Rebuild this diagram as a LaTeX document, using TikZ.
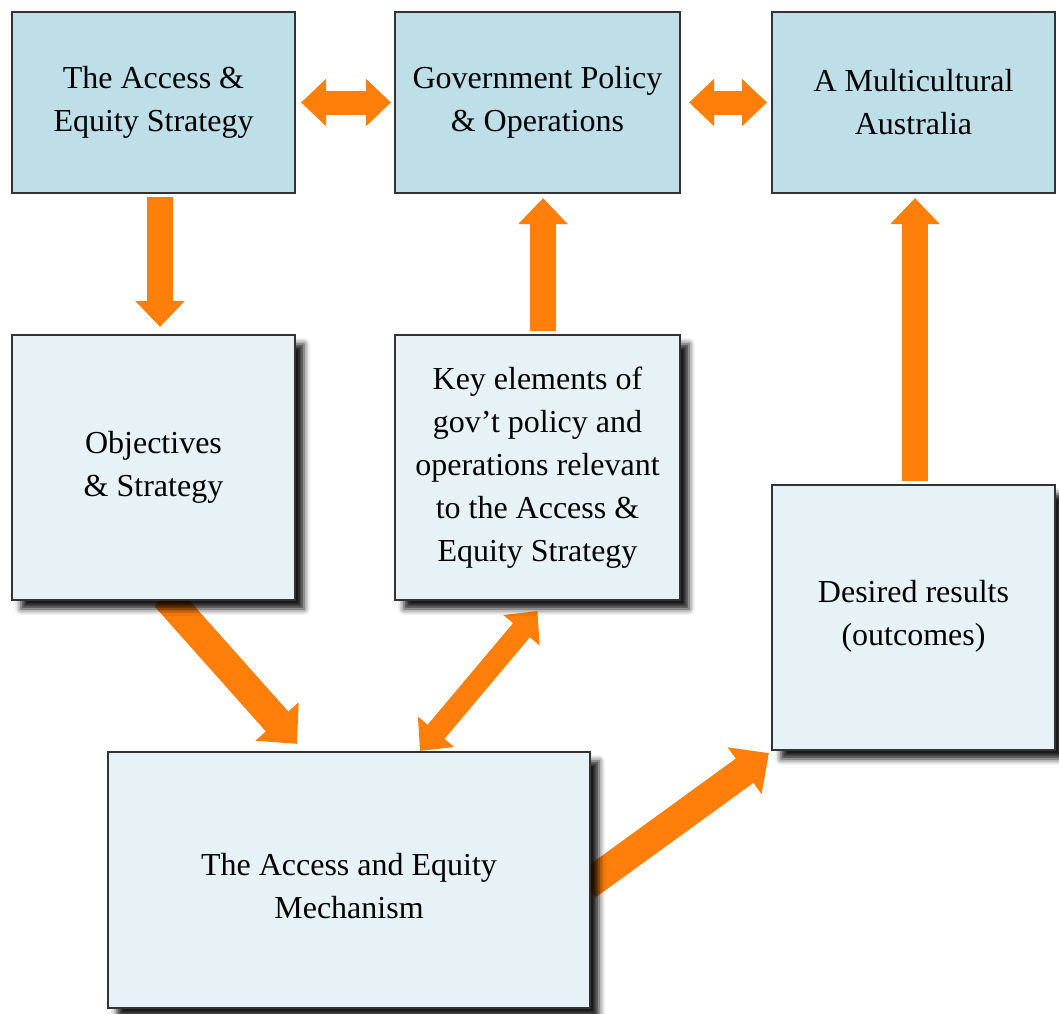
\documentclass[tikz,border=0pt]{standalone}
\usepackage{fontspec}
\setmainfont{Liberation Serif}
\usetikzlibrary{arrows.meta,shadows.blur,calc}
\pgfdeclarelayer{background}
\pgfsetlayers{background,main}
\definecolor{topfill}{HTML}{BEDFE8}
\definecolor{lowfill}{HTML}{E7F2F6}
\definecolor{edge}{HTML}{333333}
\definecolor{arrorange}{HTML}{FF7F0A}
\tikzset{
  boxbase/.style={draw=edge, line width=2.2pt, align=center, inner sep=0pt,
    font=\fontsize{32}{43}\selectfont},
  topbox/.style={boxbase, fill=topfill, minimum width=283pt, minimum height=181pt},
  lowbox/.style={boxbase, fill=lowfill, minimum height=265pt,
    blur shadow={shadow xshift=9pt, shadow yshift=-9pt, shadow blur radius=6pt, shadow opacity=90}},
  fat/.style={draw=arrorange, line width=26pt,
    -{Triangle[length=26pt,width=48pt]}},
  fatboth/.style={draw=arrorange, line width=24pt,
    {Triangle[length=25pt,width=46pt]}-{Triangle[length=25pt,width=46pt]}},
}
\begin{document}
\begin{tikzpicture}[x=1pt,y=-1pt]
\useasboundingbox (0,0) rectangle (1059,1013);
% boxes
\node[topbox] (b1) at (153.5,102.5) {The Access \&\\Equity Strategy};
\node[topbox, minimum width=285pt] (b2) at (537.5,102.5) {Government Policy\\\& Operations};
\node[topbox] (b3) at (913.5,102.5) {A Multicultural\\Australia};
\node[lowbox, minimum width=283pt] (obj) at (153.5,467.5) {Objectives\\\& Strategy};
\node[lowbox, minimum width=285pt] (key) at (537.5,467.5) {Key elements of\\gov’t policy and\\operations relevant\\to the Access \&\\Equity Strategy};
\node[lowbox, minimum width=283pt] (des) at (913.5,617.5) {\mbox{}\\[-23pt]Desired results\\(outcomes)};
\node[lowbox, minimum width=482pt, minimum height=256pt] (mech) at (349,880) {\mbox{}\\[-9pt]The Access and Equity\\Mechanism};
% arrows
\begin{pgfonlayer}{background}
\draw[fatboth] ([xshift=5pt]b1.east) -- ([xshift=-3pt]b2.west);
\draw[fatboth] ([xshift=8pt]b2.east) -- ([xshift=-4pt]b3.west);
\draw[fat] ([xshift=6.5pt,yshift=-3pt]b1.south) -- ([xshift=6.5pt,yshift=7pt]obj.north);
\draw[fat] ([xshift=5.5pt,yshift=3pt]key.north) -- ([xshift=5.5pt,yshift=-4pt]b2.south);
\draw[fat] ([xshift=1.5pt,yshift=3pt]des.north) -- ([xshift=1.5pt,yshift=-4pt]b3.south);
\draw[fat, line width=30pt, -{Triangle[length=30pt,width=56pt]}] ([xshift=12pt,yshift=5pt]obj.south) -- ([xshift=-52pt,yshift=7pt]mech.north);
\draw[fatboth, line width=22pt] ([yshift=-10pt]key.south) -- ([xshift=71pt,yshift=0pt]mech.north);
\draw[fat, line width=30pt, -{Triangle[length=30pt,width=56pt]}] ([xshift=-4pt,yshift=-5pt]mech.east) -- ([xshift=-2pt,yshift=-2pt]des.south west);
\end{pgfonlayer}
\end{tikzpicture}
\end{document}
